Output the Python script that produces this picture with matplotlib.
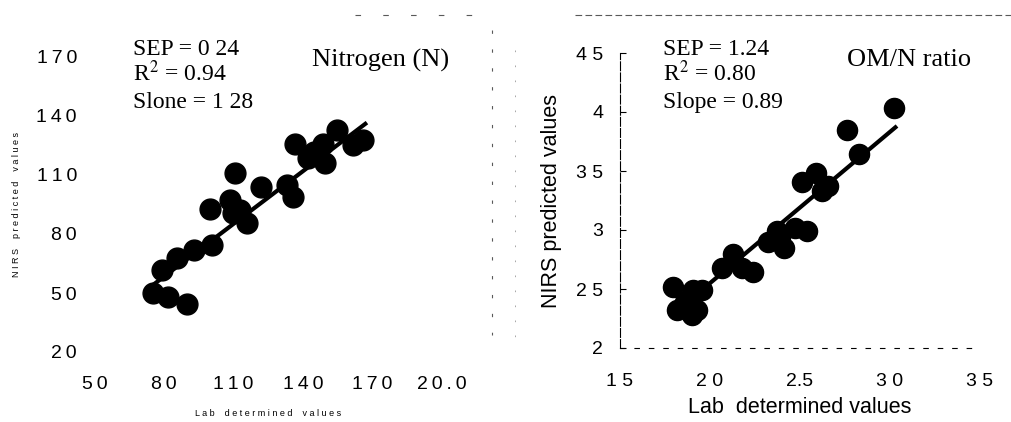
import matplotlib
matplotlib.use('Agg')
import matplotlib.pyplot as plt
from matplotlib.lines import Line2D

plt.rcParams['font.family'] = ['Liberation Sans', 'DejaVu Sans']
plt.rcParams['mathtext.fontset'] = 'stix'

# Nitrogen (N): lab vs NIRS predicted
n_lab = [75, 81.6, 89.8, 79, 85.5, 93, 100.6, 99.8, 108.4, 110.6, 109.7, 115.8,
         112.8, 122, 133, 135.7, 136.6, 142, 145, 148.7, 149.6, 154.8, 161.7, 166]
n_nirs = [50, 48, 44.4, 61.7, 67.8, 71.8, 74.4, 92.7, 97.3, 111, 90.7, 85.6,
          92.2, 104, 105, 98.8, 126, 118.6, 121.7, 126, 116, 132.8, 125, 127.8]
n_fit_x = [75, 167]
n_fit_y = [54, 136]
n_xticks = [50, 80, 110, 140, 170, 200]
n_xlabels = ['50', '80', '110', '140', '170', '20.0']
n_yticks = [20, 50, 80, 110, 140, 170]
n_ylabels = ['20', '50', '80', '110', '140', '170']
n_stats = ['SEP = 0 24', 'R$^2$ = 0.94', 'Slone = 1 28']

# OM/N ratio
om_lab = [1.796, 1.815, 1.86, 1.898, 1.926, 1.907, 1.954, 2.065, 2.13, 2.176, 2.24, 2.32,
          2.37, 2.41, 2.39, 2.47, 2.537, 2.51, 2.59, 2.62, 2.657, 2.76, 2.83, 3.02]
om_nirs = [2.52, 2.32, 2.39, 2.28, 2.32, 2.49, 2.49, 2.68, 2.80, 2.68, 2.64, 2.90,
           2.99, 2.85, 2.94, 3.02, 2.99, 3.41, 3.48, 3.33, 3.37, 3.85, 3.64, 4.03]
om_fit_x = [1.93, 3.03]
om_fit_y = [2.46, 3.87]
om_xticks = [1.5, 2.0, 2.5, 3.0, 3.5]
om_xlabels = ['1 5', '2 0', '2.5', '3 0', '3 5']
om_yticks = [2.0, 2.5, 3.0, 3.5, 4.0, 4.5]
om_ylabels = ['2', '2 5', '3', '3 5', '4', '4 5']
om_stats = ['SEP = 1.24', 'R$^2$ = 0.80', 'Slope = 0.89']

W, H = 1011, 422
fig = plt.figure(figsize=(W / 100, H / 100), dpi=100)

def px(x, y):
    return x / W, 1 - y / H

def spaced(labels):
    # the scanned digits are set with a little extra tracking
    return ['\u2009'.join(l) for l in labels]

# ---- left panel
ax1 = fig.add_axes([95 / W, 1 - 352 / H, 346.5 / W, 295 / H])
ax1.scatter(n_lab, n_nirs, s=225, color='black', zorder=3, clip_on=False)
ax1.plot(n_fit_x, n_fit_y, color='black', lw=3, zorder=2)
ax1.set_xlim(50, 200)
ax1.set_ylim(20, 170)
ax1.set_xticks(n_xticks, spaced(n_xlabels))
ax1.set_yticks(n_yticks, spaced(n_ylabels))
ax1.tick_params(axis='x', length=0, pad=17, labelsize=14)
ax1.tick_params(axis='y', length=0, pad=13, labelsize=14)
for s in ax1.spines.values():
    s.set_visible(False)
ax1.set_xlabel('L a b    d e t e r m i n e d    v a l u e s', fontsize=6.5, labelpad=12)
ax1.set_ylabel('N I R S    p r e d i c t e d    v a l u e s', fontsize=6.5, labelpad=11)

# ---- right panel
ax2 = fig.add_axes([620 / W, 1 - 348 / H, 360 / W, 295 / H])
ax2.scatter(om_lab, om_nirs, s=210, color='black', zorder=3, clip_on=False)
ax2.plot(om_fit_x, om_fit_y, color='black', lw=3, zorder=2)
ax2.set_xlim(1.5, 3.5)
ax2.set_ylim(2, 4.5)
ax2.set_xticks(om_xticks, om_xlabels)
ax2.set_yticks(om_yticks, om_ylabels)
ax2.tick_params(axis='x', length=0, pad=18, labelsize=14)
ax2.tick_params(axis='y', direction='in', length=4, width=0.8, pad=12, labelsize=14)
ax2.spines['top'].set_visible(False)
ax2.spines['right'].set_visible(False)
ax2.spines['left'].set_linestyle((0, (8, 2)))
ax2.spines['left'].set_linewidth(0.8)
ax2.spines['bottom'].set_linestyle((0, (4, 9)))
ax2.spines['bottom'].set_linewidth(0.8)
ax2.set_xlabel('Lab  determined values', fontsize=15.5, labelpad=5)
ax2.set_ylabel('NIRS predicted values', fontsize=15.5, labelpad=10)

# ---- annotations (serif, like the original)
serif = ['Liberation Serif', 'DejaVu Serif']
for i, t in enumerate(n_stats):
    fig.text(*px(133, 55 + 26.5 * i), t, fontsize=17, family=serif, va='baseline')
fig.text(*px(312, 67), 'Nitrogen (N)', fontsize=19, family=serif, va='baseline')
for i, t in enumerate(om_stats):
    fig.text(*px(663, 55 + 26.5 * i), t, fontsize=17, family=serif, va='baseline')
fig.text(*px(847, 66), 'OM/N ratio', fontsize=19, family=serif, va='baseline')

# scan remnants of the panel frames
frame = dict(color='0.35', lw=0.8)
fig.add_artist(Line2D([575 / W, 1], [1 - 15 / H] * 2, ls=(0, (6, 3)), **frame))
fig.add_artist(Line2D([355 / W, 475 / W], [1 - 15 / H] * 2, ls=(0, (5, 20)), **frame))
fig.add_artist(Line2D([492 / W] * 2, [1 - 30 / H, 1 - 335 / H], ls=(0, (3, 14)), **frame))
fig.add_artist(Line2D([515 / W] * 2, [1 - 50 / H, 1 - 345 / H], ls=(0, (2, 16)), color='0.6', lw=0.6))

fig.savefig('out.png', dpi=100)
